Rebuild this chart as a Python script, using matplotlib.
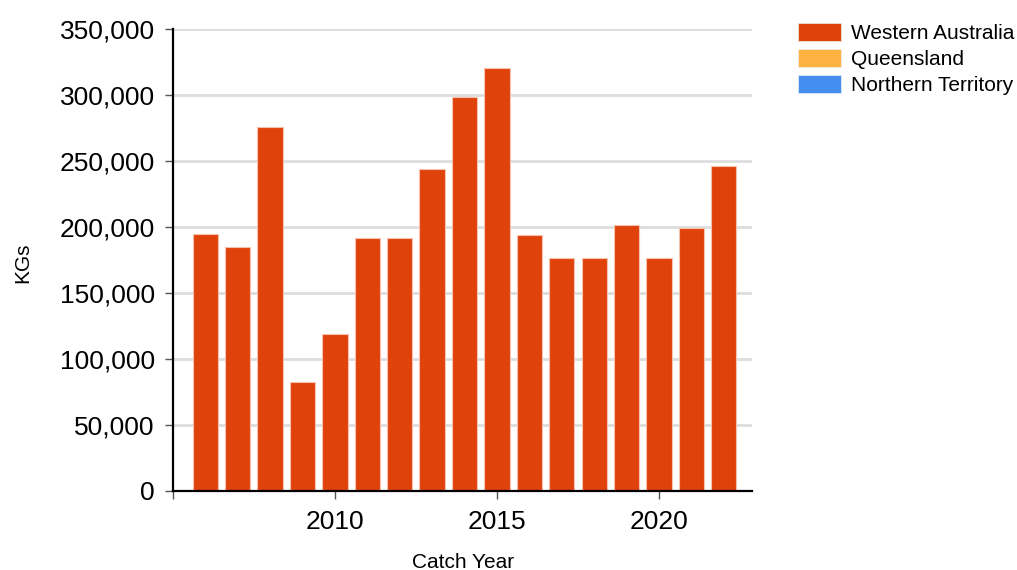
import numpy as np
import matplotlib.pyplot as plt
from matplotlib.patches import Patch
from matplotlib.ticker import FuncFormatter

plt.rcParams['font.family'] = ['Liberation Sans', 'DejaVu Sans']

# ---------------- data ----------------
years = np.arange(2006, 2023)
western_australia = [194700, 184500, 275800, 82300, 119000, 191400, 191900,
                     244200, 298700, 320400, 194200, 176700, 176200, 201500,
                     176200, 198900, 246200]
queensland = [0] * len(years)
northern_territory = [0] * len(years)

series = ["Western Australia", "Queensland", "Northern Territory"]
colors = ["#e0420b", "#fdb242", "#448ef0"]

# ---------------------------- plot ----------------------------
fig = plt.figure(figsize=(10.17, 5.70), dpi=100)
ax = fig.add_axes([0.170, 0.1386, 0.5694, 0.8104])

bottom = np.zeros(len(years))
for name, vals, col in zip(series, [western_australia, queensland, northern_territory], colors):
    vals = np.array(vals, dtype=float)
    lw = 0.8 if vals.any() else 0
    ax.bar(years, vals, width=0.78, bottom=bottom, color=col,
           edgecolor="#f5c2ad", linewidth=lw, zorder=3)
    bottom += vals

ax.set_ylim(0, 350000)
ax.set_xlim(2005, 2022.87)
ax.set_yticks(np.arange(0, 350001, 50000))
ax.yaxis.set_major_formatter(FuncFormatter(lambda v, p: f"{int(v):,}"))
ax.set_xticks([2005, 2010, 2015, 2020])
ax.set_xticklabels(["", "2010", "2015", "2020"])

ax.grid(axis="y", color="#dddddd", lw=2, zorder=0)
for s in ["top", "right"]:
    ax.spines[s].set_visible(False)
for s in ["left", "bottom"]:
    ax.spines[s].set_linewidth(1.6)
    ax.spines[s].set_zorder(4)
ax.tick_params(axis="both", labelsize=19, length=6, width=1, color="#555555",
               direction="out", pad=7)
ax.tick_params(axis="x", pad=8)

fig.text(0.0225, 0.539, "KGs", rotation=90, ha="center", va="center", fontsize=15)
fig.text(0.455, 0.014, "Catch Year", ha="center", va="center", fontsize=15)

handles = [Patch(facecolor=c, edgecolor="#eeeeee", lw=0.5) for c in colors]
fig.legend(handles, series, loc="upper left", bbox_to_anchor=(0.776, 0.975),
           frameon=False, fontsize=15, handlelength=2.1, handleheight=0.95,
           handletextpad=0.45, labelspacing=0.28, borderaxespad=0)

fig.savefig("out.png", dpi=100)
